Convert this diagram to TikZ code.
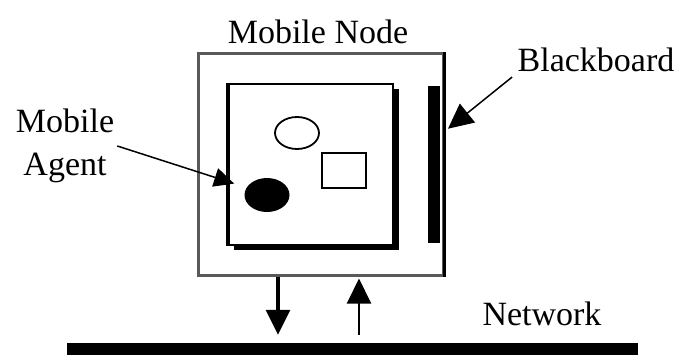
\documentclass[tikz,border=0pt]{standalone}
\usepackage{fontspec}
\setmainfont{Liberation Serif}
\usepackage{tikz}
\usetikzlibrary{
  arrows.meta,
  positioning,
  shapes.geometric
}
\tikzset{
  label text/.style={font=\fontsize{34}{43}\selectfont, align=center, inner sep=3pt},
  big tip/.style={-{Triangle[length=25pt,width=24pt]}}
}

\begin{document}
\begin{tikzpicture}[x=1pt,y=-1pt]
  \useasboundingbox (0,0) rectangle (678,354);
  % Mobile node frame
  \node[draw=black!65, line width=3pt, minimum width=245pt, minimum height=222pt,
        inner sep=0pt] (mnode) at (320.5,164) {};
  \draw[line width=3pt] (mnode.north east) -- (mnode.south east);
  \node[label text] (mnodetxt) at (318,32) {Mobile Node};
  % Agent area with its shadow
  \node[fill=black, minimum width=165pt, minimum height=161pt, inner sep=0pt]
        (shadow) at (316.5,169.5) {};
  \node[draw, fill=white, line width=1.8pt, minimum width=164pt, minimum height=161pt,
        inner sep=0pt] (agents) at (311,164.5) {};
  \draw[line width=3.5pt] (agents.north west) -- (agents.south west);
  % Agents
  \node[draw, ellipse, line width=1.8pt, minimum width=44pt, minimum height=32pt,
        inner sep=0pt] (other) at (297,133) {};
  \node[draw, line width=2.5pt, minimum width=44pt, minimum height=35pt,
        inner sep=0pt] (task) at (344,170.5) {};
  \node[fill=black, ellipse, minimum width=45pt, minimum height=34pt,
        inner sep=0pt] (agent) at (267,195) {};
  % Blackboard
  \node[fill=black, minimum width=12pt, minimum height=157pt, inner sep=0pt]
        (bboard) at (434,164.5) {};
  \node[label text] (bboardtxt) at (596,60) {Blackboard};
  % Network
  \node[fill=black, minimum width=571pt, minimum height=14pt, inner sep=0pt]
        (net) at (352.5,350) {};
  \node[label text] (nettxt) at (542,314) {Network};
  % Mobile agent label
  \node[label text] (agenttxt) at (65,146) {Mobile\\Agent};
  % Arrows
  \draw[-{Triangle[length=20pt,width=19pt]}, line width=1.5pt, shorten >=13pt]
        (agenttxt.east) -- (agent.160);
  \draw[big tip, line width=1.5pt, shorten <=3pt, shorten >=10pt]
        (bboardtxt.south west) -- ([yshift=29.5pt]bboard.east);
  \draw[big tip, line width=3.2pt, shorten >=8pt]
        ([xshift=-42.5pt]mnode.south) -- ([xshift=-42.5pt]mnode.south |- net.north);
  \draw[big tip, line width=2pt, shorten <=8pt, shorten >=2pt]
        ([xshift=38.5pt]mnode.south |- net.north) -- ([xshift=38.5pt]mnode.south);
\end{tikzpicture}
\end{document}
